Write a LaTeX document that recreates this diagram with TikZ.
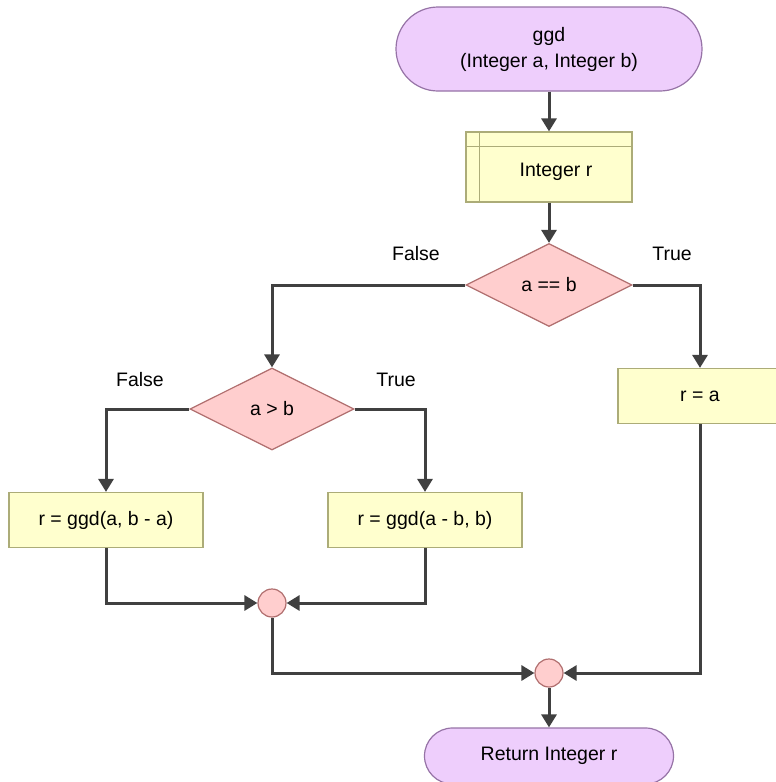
\documentclass[tikz,border=0pt]{standalone}
\usepackage{fontspec}
\setmainfont{Liberation Sans}
\usetikzlibrary{arrows.meta,shapes.geometric,calc}
\definecolor{termfill}{RGB}{238,206,252}
\definecolor{termline}{RGB}{150,115,166}
\definecolor{procfill}{RGB}{255,255,206}
\definecolor{procline}{RGB}{172,172,120}
\definecolor{decfill}{RGB}{255,206,206}
\definecolor{decline}{RGB}{176,110,110}
\definecolor{flow}{RGB}{64,64,64}
\begin{document}
\begin{tikzpicture}[x=1pt,y=-1pt,
  every node/.style={font=\fontsize{19.5}{26}\selectfont, text=black},
  terminal/.style={draw=termline, fill=termfill, line width=1.2pt, rounded corners=42pt, minimum width=306pt, minimum height=84pt, inner sep=0pt, align=center},
  endterminal/.style={draw=termline, fill=termfill, line width=1.2pt, rounded corners=28pt, minimum width=249pt, minimum height=56pt, inner sep=0pt},
  procbox/.style={draw=procline, fill=procfill, line width=1.2pt, minimum width=194pt, minimum height=55pt, inner sep=0pt},
  decision/.style={draw=decline, fill=decfill, line width=1.2pt, diamond, aspect=2, minimum width=166pt, minimum height=83pt, inner sep=0pt},
  junction/.style={draw=decline, fill=decfill, line width=1.2pt, circle, minimum size=28pt, inner sep=0pt},
  flowline/.style={draw=flow, line width=3pt, -{Triangle[length=13pt,width=15pt]}},
  branch/.style={font=\fontsize{19.5}{24}\selectfont}
]
\useasboundingbox (0,0) rectangle (776,782);
\clip (0,0) rectangle (776,782);

% start terminal
\node[terminal] (start) at (549,49) {ggd\\(Integer a, Integer b)};

% declaration box with internal-storage lines
\node[procbox, minimum width=166pt, minimum height=70pt] (decl) at (549,167) {};
\draw[procline, line width=1.2pt] ($(decl.north west)+(14,0)$) -- ($(decl.south west)+(14,0)$);
\draw[procline, line width=1.2pt] ($(decl.north west)+(0,15)$) -- ($(decl.north east)+(0,15)$);
\node at ($(decl.center)+(7,5)$) {Integer r};

% decisions
\node[decision] (eq) at (549,285) {a == b};
\node[decision, minimum width=164pt, minimum height=82pt] (gt) at (272,409) {a > b};

% process boxes
\node[procbox] (left) at (106,520) {r = ggd(a, b - a)};
\node[procbox] (right) at (425,520) {r = ggd(a - b, b)};
\node[procbox, minimum width=164pt] (assign) at (700,396) {r = a};

% junctions
\node[junction] (j1) at (272,603) {};
\node[junction] (j2) at (549,673) {};

% end terminal
\node[endterminal] (stop) at (549,756) {Return Integer r};

% branch labels
\node[branch] (fa) at (416,254) {False};
\node[branch] (ta) at (672,254) {True};
\node[branch] (fb) at (140,380) {False};
\node[branch] (tb) at (396,380) {True};

% connectors
\draw[flowline] (start.south) -- (decl.north);
\draw[flowline] (decl.south) -- (eq.north);
\draw[flowline] (eq.west) -| (gt.north);
\draw[flowline] (eq.east) -| (assign.north);
\draw[flowline] (gt.west) -| (left.north);
\draw[flowline] (gt.east) -| (right.north);
\draw[flowline] (left.south) |- (j1.west);
\draw[flowline] (right.south) |- (j1.east);
\draw[flowline] (j1.south) |- (j2.west);
\draw[flowline] (assign.south) |- (j2.east);
\draw[flowline] (j2.south) -- (stop.north);
\end{tikzpicture}
\end{document}
